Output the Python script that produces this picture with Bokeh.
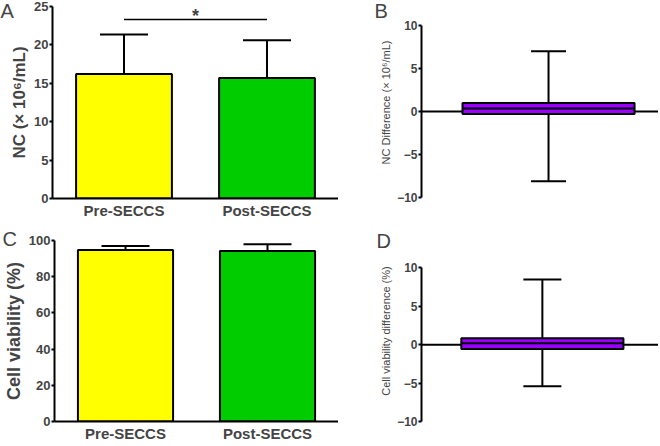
from bokeh.plotting import figure
from bokeh.layouts import row, column
from bokeh.models import (ColumnDataSource, Whisker, TeeHead, Span, Label, Title,
                          Range1d, FactorRange)
from bokeh.embed import file_html
from bokeh.resources import INLINE

# ---------------- data ----------------
groups = ["Pre-SECCS", "Post-SECCS"]
bar_colors = ["#FFFF00", "#00CC00"]

nc_mean = [16.2, 15.7]
nc_sd = [5.15, 4.9]
nc_sig_y = 23.3
nc_ticks = [0, 5, 10, 15, 20, 25]

viab_mean = [94.7, 94.2]
viab_sd = [2.3, 3.7]
viab_ticks = [0, 20, 40, 60, 80, 100]

# min, q1, median, q3, max
nc_diff_stats = [-8.1, -0.3, 0.35, 1.0, 7.0]
viab_diff_stats = [-5.4, -0.55, 0.2, 0.85, 8.5]
diff_ticks = [-10, -5, 0, 5, 10]

panel_letters = ["A", "B", "C", "D"]

FONT = "Liberation Sans"
PURPLE = "#9900FF"


def style_left_axis(p, ticks, label, label_size, label_style, tick_size, bounds):
    ax = p.yaxis[0]
    ax.ticker = ticks
    ax.bounds = bounds
    ax.axis_line_width = 2
    ax.major_tick_line_width = 2
    ax.major_tick_out = 3
    ax.major_tick_in = 0
    ax.minor_tick_line_color = None
    ax.major_label_text_font = FONT
    ax.major_label_text_font_style = "bold"
    ax.major_label_text_font_size = tick_size
    ax.major_label_standoff = 1
    ax.axis_label = label
    ax.axis_label_text_font = FONT
    ax.axis_label_text_font_style = label_style
    ax.axis_label_text_font_size = label_size
    ax.axis_label_standoff = 2
    p.xgrid.visible = False
    p.ygrid.visible = False
    p.outline_line_color = None


def letter(p, txt, offset, standoff):
    p.add_layout(Title(text=txt, align="left", offset=offset, standoff=standoff,
                       text_font=FONT, text_font_size="20px",
                       text_font_style="normal"), "above")


def bar_panel(mean, sd, yend, ticks, ylabel, label_size, h, top, bottom):
    upper = [m + s for m, s in zip(mean, sd)]
    src = ColumnDataSource(dict(g=groups, mean=mean, upper=upper, color=bar_colors))
    p = figure(x_range=FactorRange(*groups), y_range=Range1d(0, yend),
               width=338, height=h, output_backend="svg", toolbar_location=None,
               min_border_left=52, min_border_right=0,
               min_border_top=top, min_border_bottom=bottom)
    p.vbar(x="g", top="mean", bottom=0, width=0.67, fill_color="color",
           line_color="black", line_width=2, source=src)
    p.add_layout(Whisker(source=src, base="g", upper="upper", lower="mean",
                         upper_head=TeeHead(size=48, line_width=2, line_color="black"),
                         lower_head=None, line_width=2, line_color="black"))
    style_left_axis(p, ticks, ylabel, label_size, "bold", "13px", (0, yend))
    xa = p.xaxis[0]
    xa.axis_line_width = 2
    xa.major_tick_line_color = None
    xa.major_tick_out = 0
    xa.minor_tick_line_color = None
    xa.major_label_text_font = FONT
    xa.major_label_text_font_style = "bold"
    xa.major_label_text_font_size = "15px"
    xa.major_label_standoff = 3
    return p


def box_panel(stats, ylabel, yr, pos, w, cap, h, top, bottom):
    lo, q1, med, q3, hi = stats
    src = ColumnDataSource(dict(x=[pos], lo=[lo], q1=[q1], med=[med], q3=[q3], hi=[hi],
                                x0=[pos - w / 2], x1=[pos + w / 2]))
    p = figure(x_range=Range1d(0, 1), y_range=Range1d(*yr),
               width=320, height=h, output_backend="svg", toolbar_location=None,
               x_axis_location=None,
               min_border_left=83, min_border_right=0,
               min_border_top=top, min_border_bottom=bottom)
    p.add_layout(Span(location=0, dimension="width", line_color="black",
                      line_width=2, level="underlay"))
    p.add_layout(Whisker(source=src, base="x", upper="hi", lower="q3",
                         upper_head=TeeHead(size=cap, line_width=2, line_color="black"),
                         lower_head=None, line_width=2, line_color="black",
                         level="underlay"))
    p.add_layout(Whisker(source=src, base="x", upper="q1", lower="lo",
                         lower_head=TeeHead(size=cap, line_width=2, line_color="black"),
                         upper_head=None, line_width=2, line_color="black",
                         level="underlay"))
    p.vbar(x="x", top="q3", bottom="q1", width=w, fill_color=PURPLE,
           line_color="black", line_width=2, source=src)
    p.segment(x0="x0", x1="x1", y0="med", y1="med", line_color="black",
              line_width=2, source=src)
    style_left_axis(p, diff_ticks, ylabel, "11px", "normal", "12px",
                    (diff_ticks[0], diff_ticks[-1]))
    return p


H1, TOP1, BOT1 = 223, 6, 25
H2, TOP2, BOT2 = 221, 17, 19

pA = bar_panel(nc_mean, nc_sd, 25, nc_ticks, "NC (\u00d7 10\u2076/mL)", "17px", H1, TOP1, BOT1)
pA.segment(x0=[groups[0]], x1=[groups[1]], y0=[nc_sig_y], y1=[nc_sig_y],
           line_color="black", line_width=1.5)
pA.add_layout(Label(x=1.0, y=nc_sig_y, text="*", text_align="center",
                    text_baseline="alphabetic", y_offset=4, text_font=FONT,
                    text_font_style="bold", text_font_size="18px"))
letter(pA, panel_letters[0], -52, -31)

B_RANGE = (-10.12, 12.21)
pB = box_panel(nc_diff_stats, "NC Difference (\u00d7 10\u2076/mL)", B_RANGE,
               0.536, 0.726, 35, H1, TOP1, BOT1)
letter(pB, panel_letters[1], -47, -31)

pC = bar_panel(viab_mean, viab_sd, 100, viab_ticks, "Cell viability (%)", "18px", H2, TOP2, BOT2)
letter(pC, panel_letters[2], -52, -19)

D_RANGE = (-10.0, 13.57)
pD = box_panel(viab_diff_stats, "Cell viability difference (%)", D_RANGE,
               0.51, 0.684, 38, H2, TOP2, BOT2)
letter(pD, panel_letters[3], -45, -22)

layout = column(row(pA, pB), row(pC, pD))

open("out.html", "w").write(file_html(layout, INLINE))
